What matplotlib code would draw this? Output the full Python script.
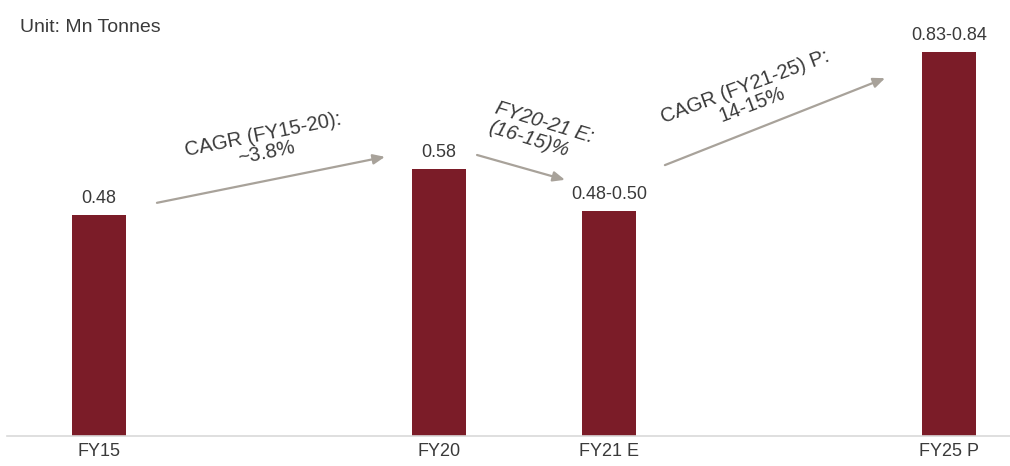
import matplotlib.pyplot as plt

plt.rcParams['font.family'] = ['Liberation Sans', 'DejaVu Sans']

# data
categorias = ["FY15", "FY20", "FY21 E", "FY25 P"]
posiciones = [0, 2, 3, 5]
valores = [0.48, 0.58, 0.49, 0.835]
etiquetas = ["0.48", "0.58", "0.48-0.50", "0.83-0.84"]

color_barra = "#7b1c28"
color_texto = "#3a3a3a"
color_flecha = "#a8a29a"

fig = plt.figure(figsize=(10.10, 4.66), dpi=100)
ax = fig.add_axes([7 / 1010, 30 / 466, 1 - 7 / 1010, 1 - 30 / 466])

ax.bar(posiciones, valores, width=0.32, color=color_barra, zorder=2)

for x, v, t in zip(posiciones, valores, etiquetas):
    ax.text(x, v + 0.017, t, ha="center", va="bottom", fontsize=13, color=color_texto)

ax.set_xlim(-0.541, 5.359)
ax.set_ylim(0, 0.948)
ax.set_xticks(posiciones)
ax.set_xticklabels(categorias, fontsize=13, color=color_texto)
ax.tick_params(axis="x", length=0, pad=5)
ax.set_yticks([])
for s in ["top", "right", "left"]:
    ax.spines[s].set_visible(False)
ax.spines["bottom"].set_color("#d9d9d9")
ax.spines["bottom"].set_linewidth(1.2)

# flechas de crecimiento
flechas = [
    ((0.341, 0.507), (1.682, 0.607)),
    ((2.224, 0.611), (2.741, 0.557)),
    ((3.329, 0.589), (4.624, 0.778)),
]
for ini, fin in flechas:
    ax.annotate("", xy=fin, xytext=ini,
                arrowprops=dict(arrowstyle="-|>,head_length=0.7,head_width=0.3",
                                color=color_flecha, lw=1.6, shrinkA=0, shrinkB=0))

ax.text(0.976, 0.635, "CAGR (FY15-20):\n~3.8%", ha="center", va="center",
        rotation=11.5, fontsize=14.5, color=color_texto, linespacing=1.0,
        rotation_mode="anchor")
ax.text(2.60, 0.66, "FY20-21 E:\n(16-15)%", ha="center", va="center",
        rotation=-17, fontsize=14.5, color=color_texto, style="italic",
        linespacing=1.1, multialignment="left", rotation_mode="anchor")
ax.text(3.82, 0.74, "CAGR (FY21-25) P:\n14-15%", ha="center", va="center",
        rotation=20.5, fontsize=14.5, color=color_texto, linespacing=1.0,
        rotation_mode="anchor")

fig.text(20 / 1010, 1 - 28 / 466, "Unit: Mn Tonnes", ha="left", va="center",
         fontsize=14, color=color_texto)

fig.savefig("out.png", dpi=100)
